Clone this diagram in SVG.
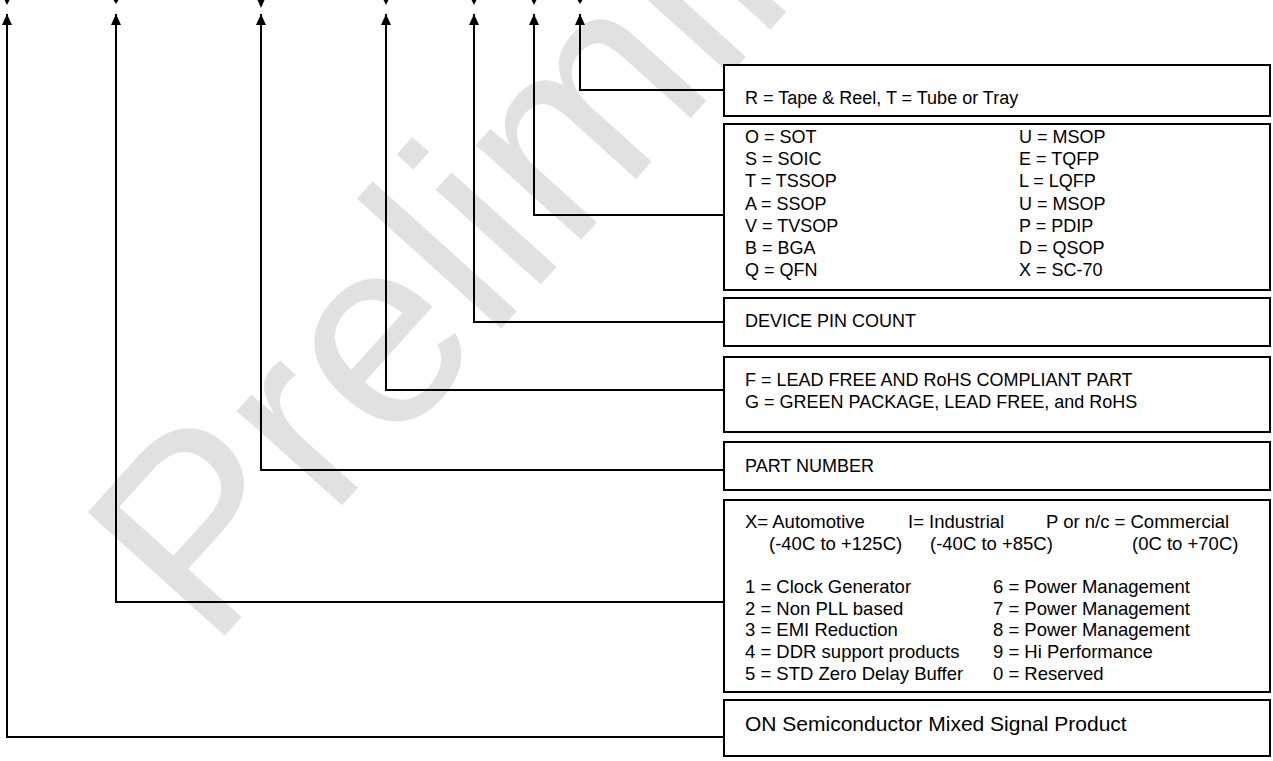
<svg xmlns="http://www.w3.org/2000/svg" width="1273" height="761" viewBox="0 0 1273 761">
<style>
.box{fill:#fff;stroke:#000;stroke-width:2}
.wire{fill:none;stroke:#000;stroke-width:2}
.t{font-family:"Liberation Sans",Arial,Helvetica,sans-serif;font-size:18px;fill:#000}
.tx{font-family:"Liberation Sans",Arial,Helvetica,sans-serif;font-size:18.5px;fill:#000}
.tl{font-family:"Liberation Sans",Arial,Helvetica,sans-serif;font-size:21px;fill:#000}
.wm{font-family:"Liberation Sans",Arial,Helvetica,sans-serif;font-size:268px;fill:#e1e1e1}
.cut{fill:#000}
</style>
<defs>
<marker id="arr" markerUnits="userSpaceOnUse" markerWidth="12" markerHeight="10" refX="11" refY="5" orient="auto">
<path d="M0,0 L11,5 L0,10 Z" fill="#000"/>
</marker>
</defs>
<rect width="1273" height="761" fill="#fff"/>
<text class="wm" transform="translate(210,652) rotate(-48)">Preliminary</text>
<g id="cutoffs">
<polygon class="cut" points="4.5,0 9.5,0 7,5"/>
<polygon class="cut" points="113.5,0 118.5,0 116,4"/>
<polygon class="cut" points="257.5,0 264.5,0 261,8"/>
<polygon class="cut" points="383.5,0 388.5,0 386,5"/>
<polygon class="cut" points="471.5,0 476.5,0 474,5"/>
<polygon class="cut" points="531.5,0 536.5,0 534,5"/>
<polygon class="cut" points="577.5,0 582.5,0 580,4"/>
</g>
<g id="connectors">
<path class="wire" d="M724,90 H580 V14" marker-end="url(#arr)"/>
<path class="wire" d="M724,215 H534 V14" marker-end="url(#arr)"/>
<path class="wire" d="M724,322 H474 V14" marker-end="url(#arr)"/>
<path class="wire" d="M724,390 H386 V14" marker-end="url(#arr)"/>
<path class="wire" d="M724,470 H261 V14" marker-end="url(#arr)"/>
<path class="wire" d="M724,602 H116 V14" marker-end="url(#arr)"/>
<path class="wire" d="M724,737 H7 V14" marker-end="url(#arr)"/>
</g>
<g id="packing">
<rect class="box" x="724" y="65" width="546" height="51"/>
<text class="t" x="745" y="104">R = Tape &amp; Reel, T = Tube or Tray</text>
</g>
<g id="package">
<rect class="box" x="724" y="124" width="546" height="166"/>
<text class="t" x="745" y="143">O = SOT</text>
<text class="t" x="745" y="165.2">S = SOIC</text>
<text class="t" x="745" y="187.4">T = TSSOP</text>
<text class="t" x="745" y="209.6">A = SSOP</text>
<text class="t" x="745" y="231.8">V = TVSOP</text>
<text class="t" x="745" y="254">B = BGA</text>
<text class="t" x="745" y="276.2">Q = QFN</text>
<text class="t" x="1019" y="143">U = MSOP</text>
<text class="t" x="1019" y="165.2">E = TQFP</text>
<text class="t" x="1019" y="187.4">L = LQFP</text>
<text class="t" x="1019" y="209.6">U = MSOP</text>
<text class="t" x="1019" y="231.8">P = PDIP</text>
<text class="t" x="1019" y="254">D = QSOP</text>
<text class="t" x="1019" y="276.2">X = SC-70</text>
</g>
<g id="pincount">
<rect class="box" x="724" y="298" width="546" height="48"/>
<text class="t" x="745" y="326.7">DEVICE PIN COUNT</text>
</g>
<g id="leadfree">
<rect class="box" x="724" y="357" width="546" height="75"/>
<text class="t" x="745" y="385.7">F = LEAD FREE AND RoHS COMPLIANT PART</text>
<text class="t" x="745" y="408">G = GREEN PACKAGE, LEAD FREE, and RoHS</text>
</g>
<g id="partnumber">
<rect class="box" x="724" y="442" width="546" height="48"/>
<text class="t" x="745" y="471.7">PART NUMBER</text>
</g>
<g id="grade">
<rect class="box" x="724" y="500" width="546" height="192"/>
<text class="tx" x="745" y="528">X= Automotive</text>
<text class="tx" x="908" y="528">I= Industrial</text>
<text class="tx" x="1046" y="528">P or n/c = Commercial</text>
<text class="tx" x="769" y="550">(-40C to +125C)</text>
<text class="tx" x="930" y="550">(-40C to +85C)</text>
<text class="tx" x="1132" y="550">(0C to +70C)</text>
<text class="tx" x="745" y="592.5">1 = Clock Generator</text>
<text class="tx" x="745" y="614.5">2 = Non PLL based</text>
<text class="tx" x="745" y="636">3 = EMI Reduction</text>
<text class="tx" x="745" y="657.5">4 = DDR support products</text>
<text class="tx" x="745" y="679.5">5 = STD Zero Delay Buffer</text>
<text class="tx" x="993" y="592.5">6 = Power Management</text>
<text class="tx" x="993" y="614.5">7 = Power Management</text>
<text class="tx" x="993" y="636">8 = Power Management</text>
<text class="tx" x="993" y="657.5">9 = Hi Performance</text>
<text class="tx" x="993" y="679.5">0 = Reserved</text>
</g>
<g id="family">
<rect class="box" x="724" y="700" width="546" height="56"/>
<text class="tl" x="745" y="731">ON Semiconductor Mixed Signal Product</text>
</g>
</svg>
